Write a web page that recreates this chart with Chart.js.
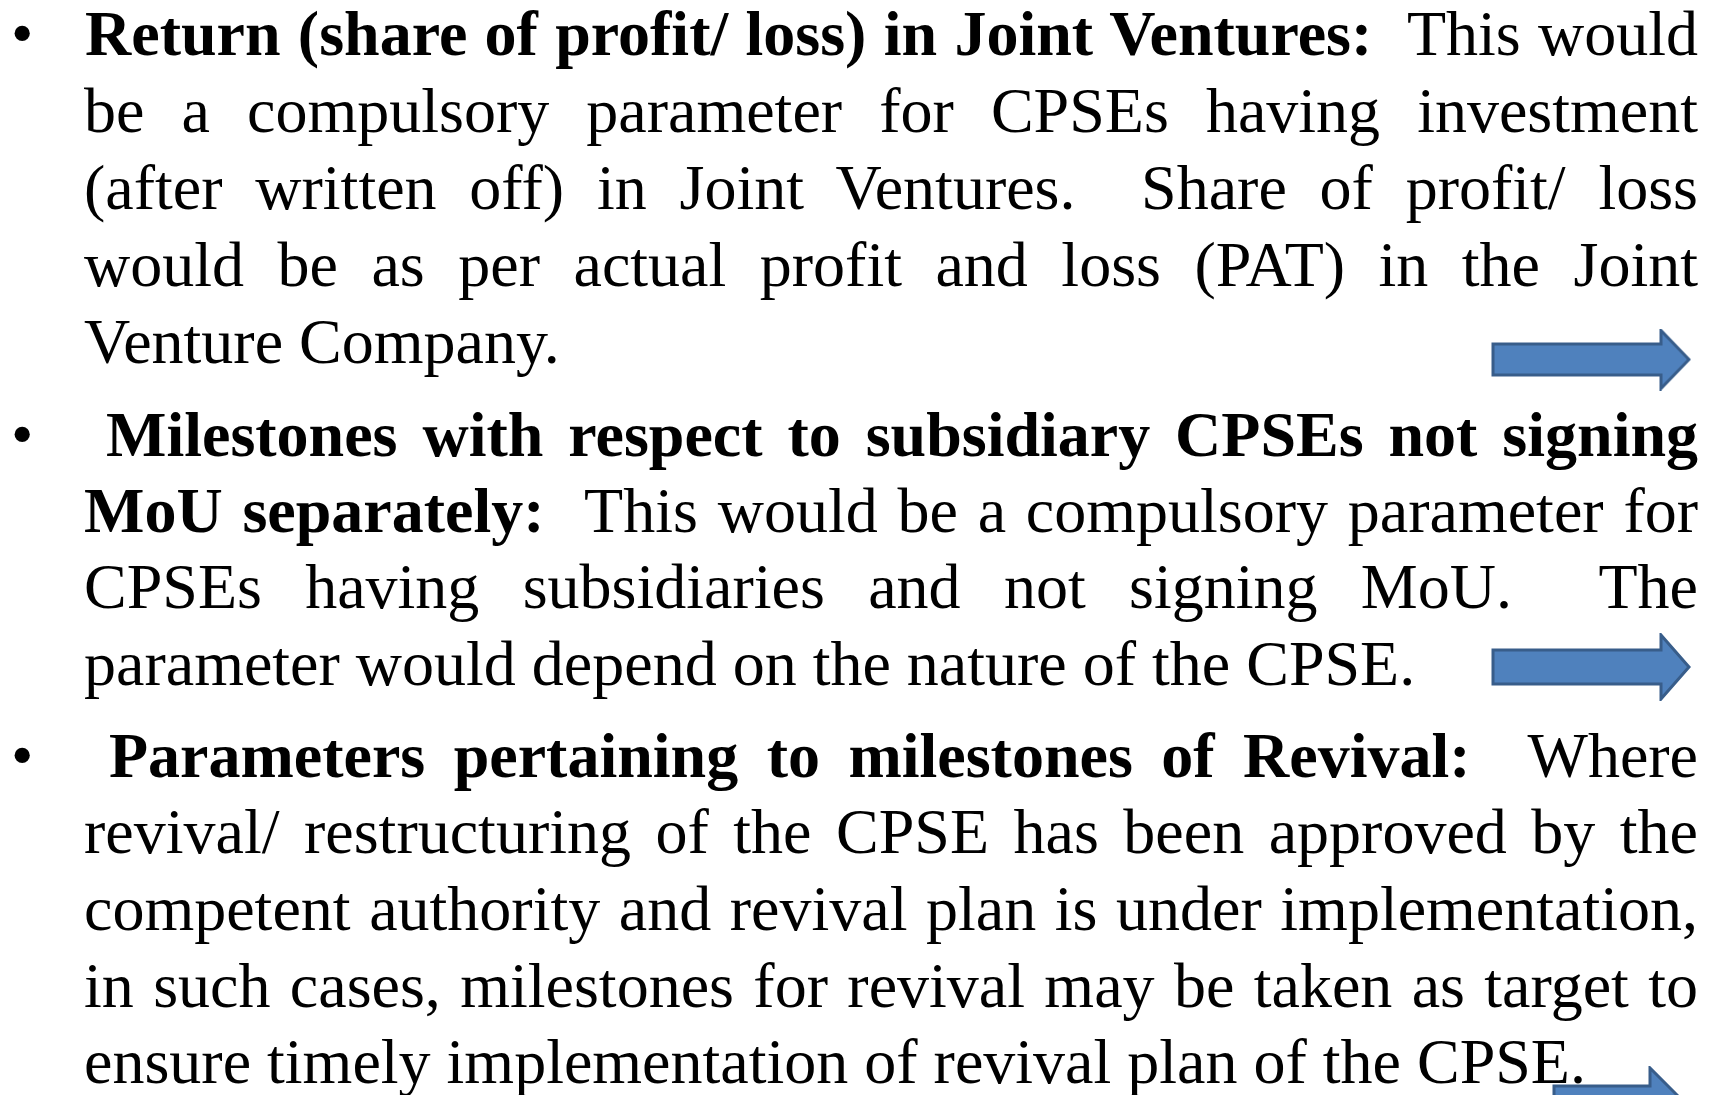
<!DOCTYPE html>
<html>
<head>
<meta charset="utf-8">
<script src="https://cdn.jsdelivr.net/npm/chart.js@4.4.1/dist/chart.umd.min.js"></script>
<style>
  html, body { margin: 0; padding: 0; background: #fff; }
  #slide { position: relative; width: 1721px; height: 1095px; overflow: hidden; }
  #arrows { position: absolute; left: 0; top: 0; }
  .ln {
    position: absolute; left: 84px; width: 1614px;
    font-family: 'Liberation Serif', 'Times New Roman', serif;
    font-size: 64px; line-height: 77px; color: #000;
  }
  .j { text-align: justify; text-align-last: justify; }
  .bul { position: absolute; left: 11px; font-family: 'Liberation Serif', serif; font-size: 64px; line-height: 77px; }
</style>
</head>
<body>
<div id="slide">
  <canvas id="arrows" width="1721" height="1095"></canvas>
</div>
<script>
// slide text, one entry per printed line; '*' marks the bold part, '_' a wide gap
const para1 = [
  '*Return (share of profit/ loss) in Joint Ventures:*_This would',
  'be a compulsory parameter for CPSEs having investment',
  '(after written off) in Joint Ventures._Share of profit/ loss',
  'would be as per actual profit and loss (PAT) in the Joint',
  'Venture Company.'
];
const para2 = [
  '*Milestones with respect to subsidiary CPSEs not signing*',
  '*MoU separately:*_This would be a compulsory parameter for',
  'CPSEs having subsidiaries and not signing MoU._The',
  'parameter would depend on the nature of the CPSE.'
];
const para3 = [
  '*Parameters pertaining to milestones of Revival:*_Where',
  'revival/ restructuring of the CPSE has been approved by the',
  'competent authority and revival plan is under implementation,',
  'in such cases, milestones for revival may be taken as target to',
  'ensure timely implementation of revival plan of the CPSE.'
];
const paragraphs = [para1, para2, para3];

// baselines (px) for each line, and first-line indents
const baselines = [
  [55, 132, 209, 286, 363],
  [456, 532, 608, 685],
  [777, 853, 930, 1007, 1083]
];
const firstIndent = [1, 22, 25];

// arrow markers (centre x, centre y)
const arrowX = [1591, 1591, 1619];
const arrowY = [359.5, 667, 1102];

const FS = 64, LH = 77;
const slide = document.getElementById('slide');
function topFor(base) {
  return base - (LH - 1.107 * FS) / 2 - 0.891 * FS;
}
paragraphs.forEach((lines, p) => {
  const b = document.createElement('div');
  b.className = 'bul';
  b.textContent = '\u2022';
  b.style.top = topFor(baselines[p][0]) + 'px';
  slide.appendChild(b);
  lines.forEach((txt, i) => {
    const d = document.createElement('div');
    d.className = 'ln' + (i < lines.length - 1 ? ' j' : '');
    d.style.top = topFor(baselines[p][i]) + 'px';
    if (i === 0) {
      d.style.left = (84 + firstIndent[p]) + 'px';
      d.style.width = (1614 - firstIndent[p]) + 'px';
    }
    d.innerHTML = txt
      .replace(/\*([^*]+)\*/g, '<b>$1</b>')
      .replace(/_/g, ' \u00a0');
    slide.appendChild(d);
  });
});

function makeArrow(w, h, shaft, head) {
  const c = document.createElement('canvas');
  c.width = w; c.height = h;
  const ctx = c.getContext('2d');
  const m = 2, cy = h / 2;
  ctx.beginPath();
  ctx.moveTo(m, cy - shaft / 2);
  ctx.lineTo(w - head, cy - shaft / 2);
  ctx.lineTo(w - head, m);
  ctx.lineTo(w - m, cy);
  ctx.lineTo(w - head, h - m);
  ctx.lineTo(w - head, cy + shaft / 2);
  ctx.lineTo(m, cy + shaft / 2);
  ctx.closePath();
  ctx.fillStyle = '#4f81bd';
  ctx.fill();
  ctx.lineWidth = 3;
  ctx.strokeStyle = '#385d8a';
  ctx.stroke();
  return c;
}
const arrowImgs = [
  makeArrow(200, 62, 31, 30),
  makeArrow(200, 68, 34, 30),
  makeArrow(134, 72, 32, 36)
];

new Chart(document.getElementById('arrows'), {
  type: 'scatter',
  data: {
    datasets: [{
      data: arrowX.map((x, i) => ({ x: x, y: arrowY[i] })),
      pointStyle: arrowImgs,
      pointRadius: 40,
      borderWidth: 0
    }]
  },
  options: {
    responsive: false,
    animation: false,
    events: [],
    layout: { padding: 0, autoPadding: false },
    plugins: { legend: { display: false }, tooltip: { enabled: false } },
    scales: {
      x: { type: 'linear', min: 0, max: 1721, display: false },
      y: { type: 'linear', min: 0, max: 1095, reverse: true, display: false }
    }
  }
});
</script>
</body>
</html>
